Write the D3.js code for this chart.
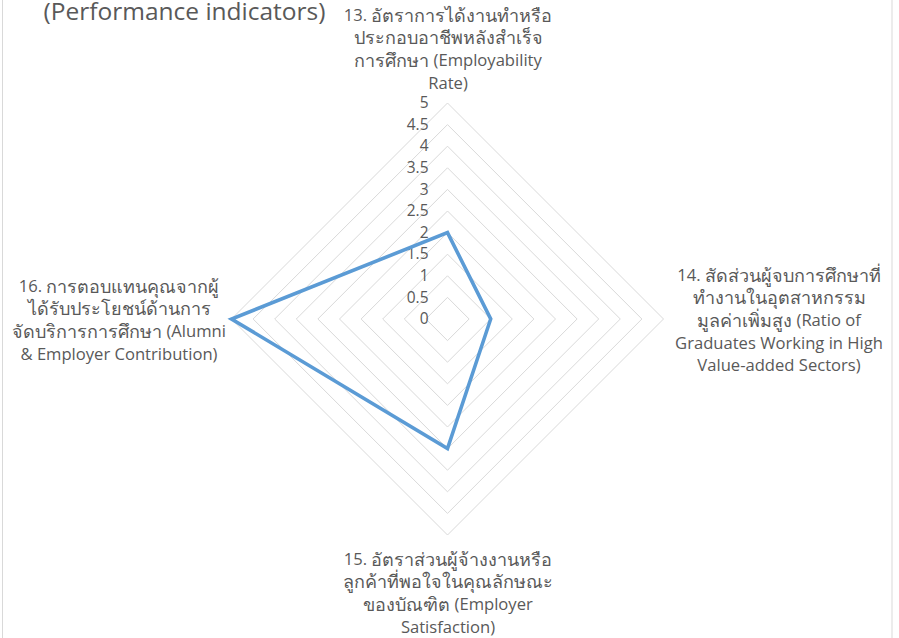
<!DOCTYPE html>
<html><head><meta charset="utf-8">
<script src="https://cdn.jsdelivr.net/npm/d3@7"></script>
<style>
html,body{margin:0;padding:0;background:#fff;}
svg text{font-family:"Open Sans","Noto Sans",sans-serif;fill:#595959;}
</style></head>
<body><svg id="c" width="899" height="638"></svg>
<script>
const categories = [
  ["13. อัตราการได้งานทำหรือ","ประกอบอาชีพหลังสำเร็จ","การศึกษา (Employability","Rate)"],
  ["14. สัดส่วนผู้จบการศึกษาที่","ทำงานในอุตสาหกรรม","มูลค่าเพิ่มสูง (Ratio of","Graduates Working in High","Value-added Sectors)"],
  ["15. อัตราส่วนผู้จ้างงานหรือ","ลูกค้าที่พอใจในคุณลักษณะ","ของบัณฑิต (Employer","Satisfaction)"],
  ["16. การตอบแทนคุณจากผู้","ได้รับประโยชน์ด้านการ","จัดบริการการศึกษา (Alumni","& Employer Contribution)"]
];
const values = [2, 1, 3, 5];
const tickValues = [0,0.5,1,1.5,2,2.5,3,3.5,4,4.5,5];
const tickLabels = ["0","0.5","1","1.5","2","2.5","3","3.5","4","4.5","5"];
const titleText = "(Performance indicators)";

const svg = d3.select("#c");
const cx = 447.5, cy = 319, R = 216;
const r = d3.scaleLinear().domain([0,5]).range([0,R]);
const n = categories.length;
const ang = i => -Math.PI/2 + i*2*Math.PI/n;
const pt = (i,v) => [cx + r(v)*Math.cos(ang(i)), cy + r(v)*Math.sin(ang(i))];

// chart border
svg.append("rect").attr("x",2.5).attr("y",-10).attr("width",889.5).attr("height",660)
  .attr("fill","none").attr("stroke","#d9d9d9").attr("stroke-width",1);

// grid
const line = d3.line().curve(d3.curveLinearClosed);
svg.append("g").selectAll("path").data(tickValues).join("path")
  .attr("d", t => line(d3.range(n).map(i => pt(i,t))))
  .attr("fill","none").attr("stroke","#d9d9d9").attr("stroke-width",1);

// tick labels
svg.append("g").selectAll("text").data(tickValues).join("text")
  .attr("x", cx - 19).attr("y", t => cy - r(t) + 1)
  .attr("text-anchor","end").attr("dominant-baseline","middle")
  .attr("font-size",15.5).text((t,i)=>tickLabels[i]);

// data
svg.append("path").attr("d", line(values.map((v,i)=>pt(i,v))))
  .attr("fill","none").attr("stroke","#5B9BD5").attr("stroke-width",3.6)
  .attr("stroke-linejoin","miter");

// category labels
const labelPos = [
  {x:448, y:17},
  {x:779, y:277},
  {x:448, y:561},
  {x:119, y:288}
];
const lh = 22.4;
const latinSize = 16.6, thaiSize = 18;
categories.forEach((lines,i)=>{
  const t = svg.append("text").attr("text-anchor","middle").attr("font-size",latinSize);
  lines.forEach((s,k)=>{
    const ln = t.append("tspan").attr("x",labelPos[i].x).attr("y",labelPos[i].y + k*lh)
     .attr("dominant-baseline","middle");
    const parts = s.match(/[\u0E00-\u0E7F]+|[^\u0E00-\u0E7F]+/g);
    parts.forEach(p=>{
      ln.append("tspan").attr("font-size", /[\u0E00-\u0E7F]/.test(p) ? thaiSize : latinSize).text(p);
    });
  });
});

// title
svg.append("text").attr("x",184.5).attr("y",20).attr("text-anchor","middle")
  .attr("font-size",24.5).text(titleText);
</script></body></html>
